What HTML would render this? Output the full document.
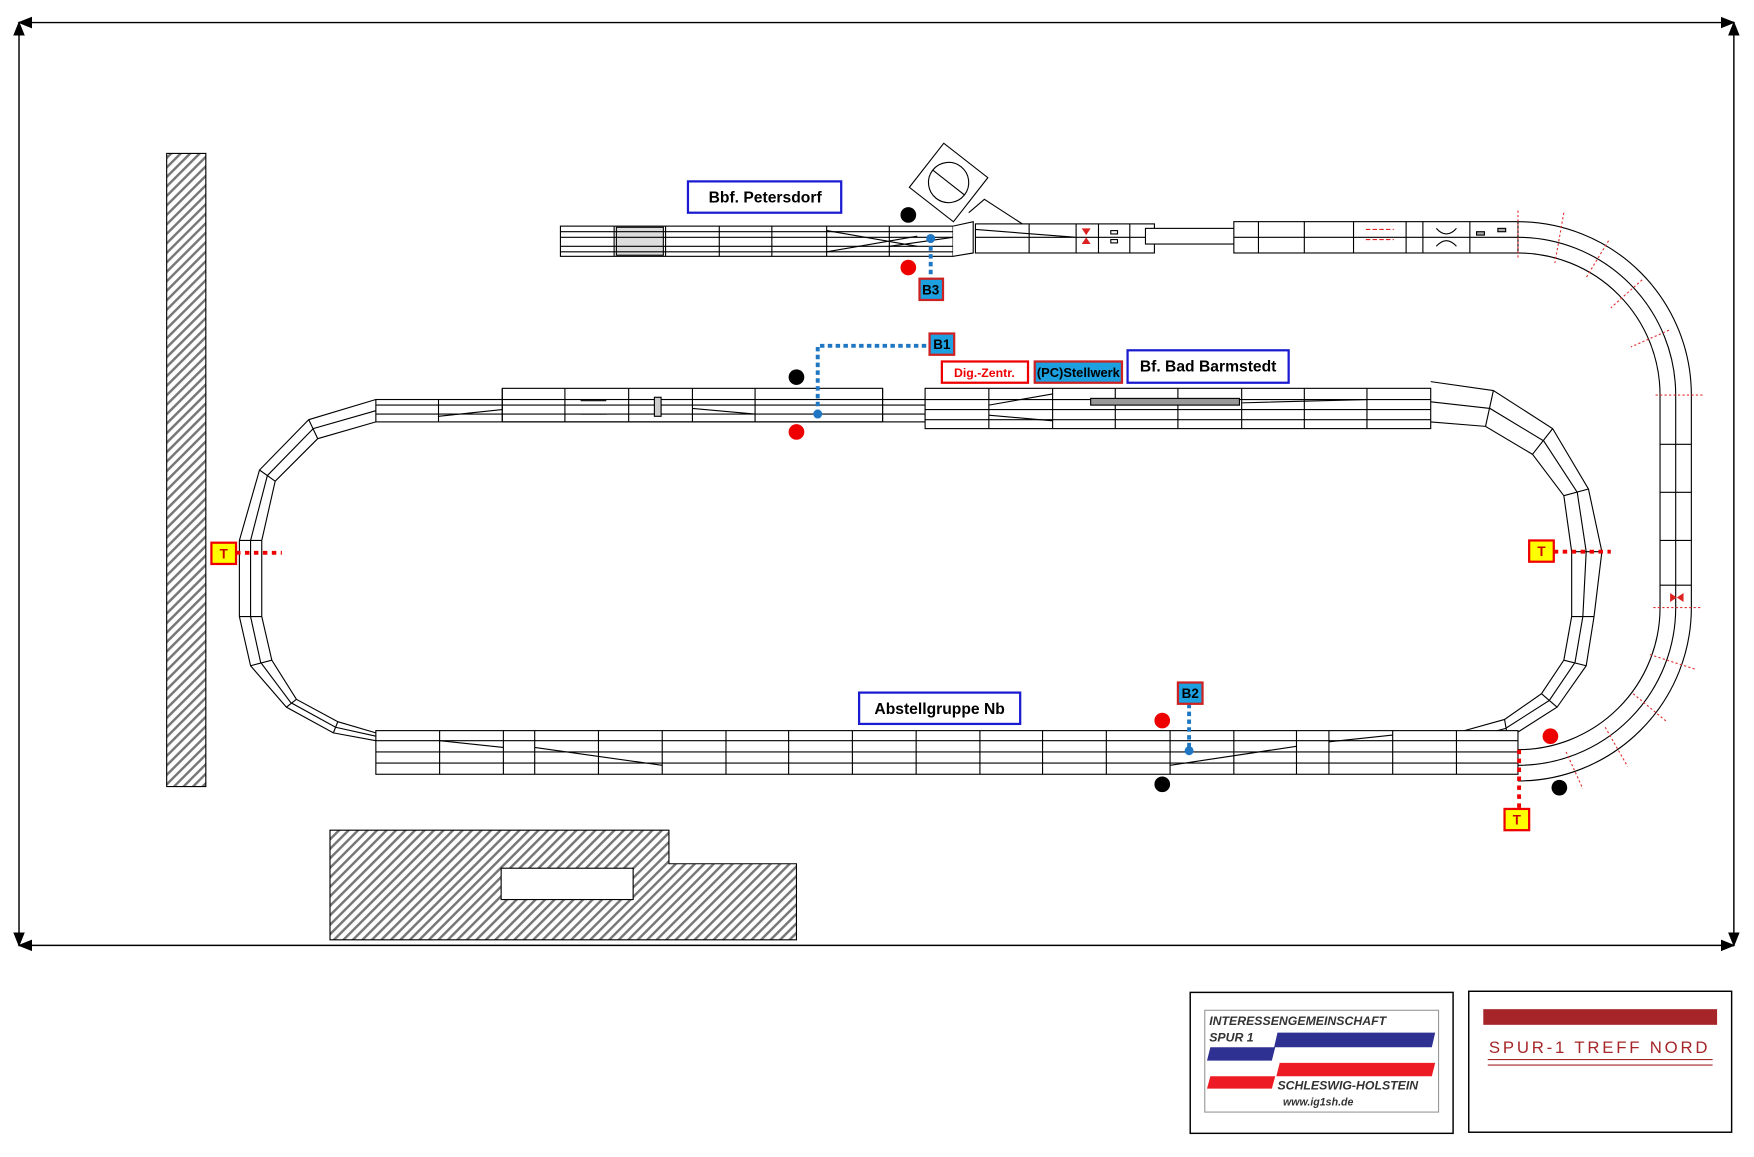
<!DOCTYPE html>
<html><head><meta charset="utf-8"><style>
html,body{margin:0;padding:0;background:#fff}
svg{display:block}
text{font-family:"Liberation Sans",sans-serif}
</style></head><body>
<svg width="1754" height="1157" viewBox="0 0 1568 1034" xmlns="http://www.w3.org/2000/svg">
<defs>
<pattern id="h" width="6" height="6" patternUnits="userSpaceOnUse" patternTransform="rotate(45)">
<rect width="6" height="6" fill="#fff"/><rect width="2.2" height="6" fill="#777"/></pattern>
<marker id="a" markerWidth="10" markerHeight="10" refX="9" refY="5" orient="auto-start-reverse"><path d="M0,1 L10,5 L0,9 Z" fill="#000"/></marker>
</defs>
<g stroke="#000" stroke-width="1.3" fill="none">
<line x1="17" y1="20" x2="1550" y2="20" marker-start="url(#a)" marker-end="url(#a)"/>
<line x1="17" y1="845" x2="1550" y2="845" marker-start="url(#a)" marker-end="url(#a)"/>
<line x1="17" y1="20" x2="17" y2="845" marker-start="url(#a)" marker-end="url(#a)"/>
<line x1="1550" y1="20" x2="1550" y2="845" marker-start="url(#a)" marker-end="url(#a)"/>
</g>
<rect x="149" y="137" width="35" height="566" fill="url(#h)" stroke="#000"/>
<path d="M295,742H598V772H712V840H295Z" fill="url(#h)" stroke="#000"/>
<rect x="448" y="776" width="118" height="28" fill="#fff" stroke="#000"/>

<g stroke="#000" stroke-width="1" fill="none">
<!-- Petersdorf -->
<rect x="501" y="202" width="351" height="27" fill="#fff"/>
<rect x="551" y="203" width="42" height="25" fill="#ddd"/>
<path d="M501,207H852M501,212H852M501,220H852M501,225H852"/>
<path d="M549,202V229M595,202V229M643,202V229M690,202V229M739,202V229M795,202V229"/>
<path d="M739,206L820,220M739,225L820,211M795,220L852,212"/>
<g transform="translate(848,163) rotate(38)"><rect x="-25" y="-25" width="50" height="50" fill="#fff"/><circle r="18"/><line x1="-18" y1="0" x2="18" y2="0"/></g>
<path d="M852,202L870,198V226L852,229" fill="#fff"/>
<path d="M866,190L880,178L920,204"/>
<rect x="872" y="200" width="160" height="26" fill="#fff"/>
<path d="M872,212H1032M920,200V226M962,200V226M982,200V226M1010,200V226M872,205L962,212"/>
<rect x="1024" y="204" width="86" height="14" fill="#fff"/>
<rect x="1103" y="198" width="254" height="28" fill="#fff"/>
<path d="M1103,212H1357M1125,198V226M1166,198V226M1210,198V226M1257,198V226M1272,198V226M1314,198V226"/>
<path d="M1284,204Q1293,214 1302,204M1284,220Q1293,210 1302,220"/>
<rect x="1320" y="207" width="7" height="3" fill="#aaa"/><rect x="1339" y="204" width="7" height="3" fill="#aaa"/>
<path d="M1221,205H1246M1221,214H1246" stroke="#d22" stroke-dasharray="4,2"/>
<rect x="993" y="206" width="6" height="3"/><rect x="993" y="214" width="6" height="3"/>
<!-- right big curve -->
<path d="M1357,198A155,155 0 0 1 1512,353V543A155,155 0 0 1 1357,698"/>
<path d="M1357,212A141,141 0 0 1 1498,353V543A141,141 0 0 1 1357,684"/>
<path d="M1357,226A127,127 0 0 1 1484,353V543A127,127 0 0 1 1357,670"/>
<path d="M1484,397H1512M1484,440H1512M1484,483H1512M1484,523H1512"/>
<!-- main loop top -->
<rect x="336" y="357" width="491" height="20" fill="#fff"/>
<path d="M336,362H827M336,370H827M392,357V377M449,347V377M505,347V377M562,347V377M619,347V377M675,347V377M789,347V377"/>
<rect x="449" y="347" width="340" height="30"/>
<path d="M392,372L449,366M619,365L675,370"/>
<path d="M519,358H542M519,370H542"/>
<rect x="585" y="355" width="6" height="17" fill="#ccc"/>
<rect x="827" y="347" width="452" height="36" fill="#fff"/>
<path d="M827,357H1279M827,366H1279M827,375H1279M884,347V383M941,347V383M997,347V383M1053,347V383M1110,347V383M1166,347V383M1222,347V383"/>
<path d="M884,362L941,352M884,371L941,376M1110,360L1222,357"/>
<rect x="975" y="356" width="133" height="6" fill="#999"/>
<!-- right polygon curve -->
<path d="M1279,341L1335,349L1388,383L1420,437L1432,493L1425,551L1418,595L1392,632L1348,660L1302,672"/>
<path d="M1279,359L1332,365L1380,394L1410,440L1418,493L1415,551L1408,592L1385,626L1346,651L1302,663"/>
<path d="M1279,377L1328,381L1370,406L1398,443L1405,493L1405,551L1398,590L1378,620L1345,643L1302,655"/>
<path d="M1328,381L1335,349M1370,406L1388,383M1398,443L1420,437M1405,493H1432M1405,551H1425M1398,590L1418,595M1378,620L1392,632M1345,643L1348,660"/>
<!-- left polygon curve -->
<path d="M336,357L276,375L232,420L214,483L214,551L224,595L256,632L298,655L336,662"/>
<path d="M336,367L280,383L239,425L224,483L224,551L233,592L260,628L300,650L336,658"/>
<path d="M336,377L284,392L246,430L234,483L234,551L243,590L265,625L302,645L336,655"/>
<path d="M276,375L284,392M232,420L246,430M214,483H234M214,551H234M224,595L243,590M256,632L265,625M298,655L302,645"/>
<!-- bottom -->
<rect x="336" y="653" width="1021" height="39" fill="#fff"/>
<path d="M336,662H1357M336,672H1357M336,682H1357"/>
<path d="M393,653V692M450,653V692M478,653V692M535,653V692M592,653V692M649,653V692M705,653V692M762,653V692M819,653V692M876,653V692M932,653V692M989,653V692M1046,653V692M1103,653V692M1159,653V692M1188,653V692M1245,653V692M1302,653V692"/>
<path d="M393,662L450,668M478,668L592,684M1046,684L1159,667M1188,663L1245,657"/>
</g>
<g fill="#d22"><path d="M967,204h8l-4,6z M967,218h8l-4,-6z M1493,530v8l6,-4z M1505,530v8l-6,-4z"/></g>
<!-- red dotted ticks -->
<g stroke="#e03030" stroke-width="1" stroke-dasharray="2,2">
<path d="M1357,188V230M1398,190L1390,235M1438,215L1418,248M1468,250L1440,275M1492,295L1458,310M1480,353H1522M1478,543H1520M1475,585L1515,598M1460,620L1490,645M1435,650L1455,685M1400,672L1415,705"/>
</g>
<!-- connectors -->
<g stroke="#1f77c4" stroke-width="3.5" stroke-dasharray="4,3" fill="none">
<path d="M832,213V249M731,370V309H831M1063,629V671"/>
</g>
<g fill="#1f77c4"><circle cx="832" cy="213" r="4"/><circle cx="731" cy="370" r="4"/><circle cx="1063" cy="671" r="4"/></g>
<g stroke="#e00" stroke-width="3.5" stroke-dasharray="4,4"><path d="M211,494H252M1389,493H1440M1358,670V723"/></g>
<g><circle cx="812" cy="192" r="7"/><circle cx="712" cy="337" r="7"/><circle cx="1039" cy="701" r="7"/><circle cx="1394" cy="704" r="7"/>
<g fill="#e00"><circle cx="812" cy="239" r="7"/><circle cx="712" cy="386" r="7"/><circle cx="1039" cy="644" r="7"/><circle cx="1386" cy="658" r="7"/></g></g>
<!-- labels -->
<g stroke="#1a1ad0" stroke-width="2" fill="#fff"><rect x="615" y="162" width="137" height="28"/><rect x="1008" y="313" width="144" height="29"/><rect x="768" y="619" width="144" height="28"/></g>
<g font-weight="bold" font-size="14" text-anchor="middle"><text x="684" y="181">Bbf. Petersdorf</text><text x="1080" y="332">Bf. Bad Barmstedt</text><text x="840" y="638">Abstellgruppe Nb</text></g>
<rect x="842" y="323" width="77" height="19" fill="#fff" stroke="#e00" stroke-width="2"/>
<text x="880" y="337" font-size="11" font-weight="bold" fill="#e00" text-anchor="middle">Dig.-Zentr.</text>
<rect x="925" y="323" width="78" height="19" fill="#1ca0e0" stroke="#c22" stroke-width="2"/>
<text x="964" y="337" font-size="11.5" font-weight="bold" text-anchor="middle">(PC)Stellwerk</text>
<g stroke="#c22" stroke-width="2" fill="#1ca0e0"><rect x="831" y="298" width="22" height="19"/><rect x="1053" y="610" width="22" height="19"/><rect x="822" y="249" width="21" height="19"/></g>
<g font-size="12" font-weight="bold" text-anchor="middle"><text x="842" y="312">B1</text><text x="1064" y="624">B2</text><text x="832" y="263">B3</text></g>
<g stroke="#e00" stroke-width="2" fill="#ff0"><rect x="189" y="485" width="22" height="19"/><rect x="1367" y="483" width="22" height="19"/><rect x="1345" y="723" width="22" height="19"/></g>
<g font-size="12" font-weight="bold" text-anchor="middle" fill="#c00"><text x="200" y="499">T</text><text x="1378" y="497">T</text><text x="1356" y="737">T</text></g>
<!-- logos -->
<rect x="1064" y="887" width="235" height="126" fill="#fff" stroke="#000" stroke-width="1.3"/>
<rect x="1077" y="903" width="209" height="91" fill="#fff" stroke="#999"/>
<path d="M1142,923H1283L1280,936H1139ZM1082,936H1140L1137,948H1079Z" fill="#2e3192"/>
<path d="M1144,950H1283L1280,962H1141ZM1082,962H1140L1137,973H1079Z" fill="#ed1c24"/>
<g font-style="italic" font-weight="bold" fill="#333"><text x="1081" y="916" font-size="11">INTERESSENGEMEINSCHAFT</text><text x="1081" y="931" font-size="11">SPUR 1</text><text x="1142" y="974" font-size="11">SCHLESWIG-HOLSTEIN</text><text x="1147" y="988" font-size="9.5">www.ig1sh.de</text></g>
<rect x="1313" y="886" width="235" height="126" fill="#fff" stroke="#000" stroke-width="1.3"/>
<rect x="1326" y="902" width="209" height="14" fill="#a52528"/>
<text x="1430" y="941" font-size="15" fill="#a52528" text-anchor="middle" letter-spacing="2.5">SPUR-1 TREFF NORD</text>
<path d="M1330,947H1531M1330,952H1531" stroke="#a52528" stroke-width="1"/>
</svg>
</body></html>
